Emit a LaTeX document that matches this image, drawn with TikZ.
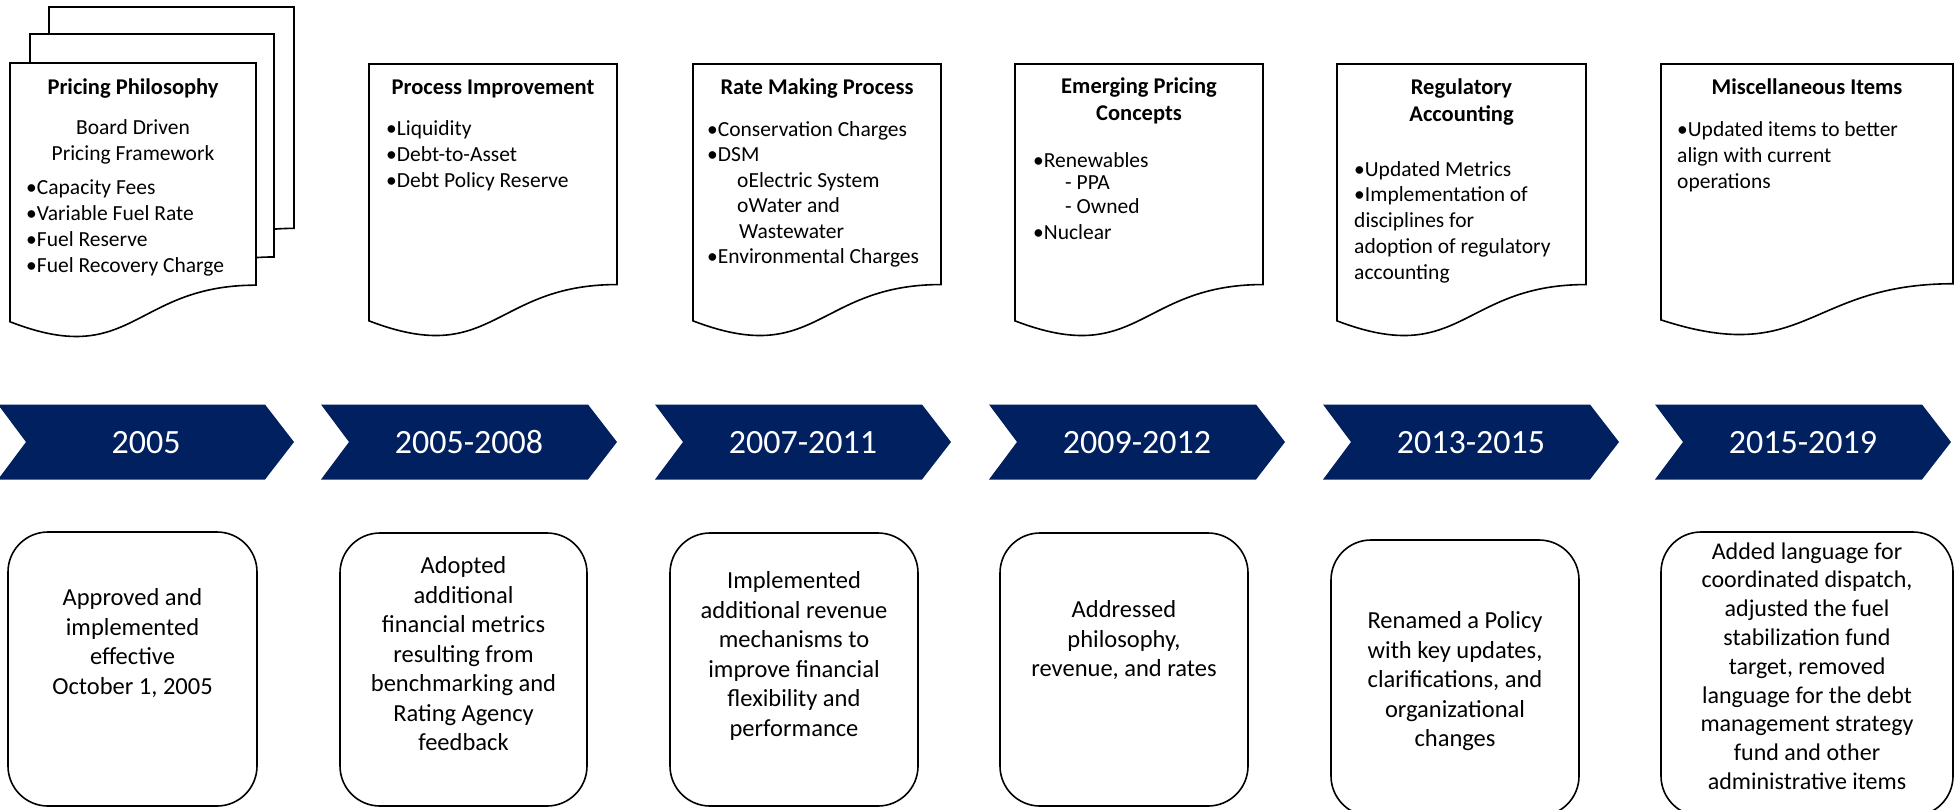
\documentclass[tikz,border=0pt]{standalone}
\usepackage{fontspec}
\setmainfont{Carlito}
\definecolor{navy}{HTML}{002060}
\tikzset{
  docline/.style={draw=black, line width=1.6pt, fill=white, line join=miter},
  doctitle/.style={font=\fontsize{22.5}{27}\selectfont\bfseries, align=center, inner sep=0pt},
  docsub/.style={font=\fontsize{21.5}{26}\selectfont, align=center, inner sep=0pt},
  docbody/.style={font=\fontsize{21.5}{26}\selectfont, align=left, inner sep=0pt, anchor=north west},
  boxstyle/.style={draw=black, line width=1.6pt, rounded corners=40pt, inner sep=0pt},
  boxtext/.style={font=\fontsize{24.5}{29.5}\selectfont, align=center, inner sep=0pt, anchor=north},
  yeartext/.style={text=white, font=\fontsize{34}{40}\selectfont, inner sep=0pt},
  chevfill/.style={fill=navy}
}
\newcommand\docshape[4]{%
  \filldraw[docline] (#1,#2) -- (#1+#3,#2) -- (#1+#3,#2+0.802*#4)
    .. controls (#1+0.5*#3,#2+0.802*#4) and (#1+0.5*#3,#2+1.1075*#4) .. (#1,#2+0.934*#4) -- cycle;}
\newcommand\yearchev[3]{%
  \fill[chevfill] (#1,404.5) -- (#1+267,404.5) -- (#1+296,442) -- (#1+267,479.5) -- (#1,479.5) -- (#1+28,442) -- cycle;
  \node[yeartext] (#3) at (#1+148,442.5) {#2};}
\begin{document}
\begin{tikzpicture}[x=1pt,y=-1pt]
\useasboundingbox (0,0) rectangle (1959,809);
\clip (0,0) rectangle (1959,809);
\fill[white] (0,0) rectangle (1959,809);

% ---------- documents ----------
\docshape{49}{7}{245}{276}
\docshape{30}{34}{244}{278}
\docshape{10}{63}{246}{277}
\docshape{369}{64}{248}{275}
\docshape{693}{64}{248}{275}
\docshape{1015}{64}{248}{275}
\docshape{1337}{64}{249}{275}
\docshape{1661}{64}{292}{274}

% doc 1
\node[doctitle, anchor=base] (d1title) at (133,94) {Pricing Philosophy};
\node[docsub, anchor=north] (d1sub) at (133,116) {\strut Board Driven\\Pricing Framework};
\node[docbody] (d1body) at (26,176) {\strut •Capacity Fees\\•Variable Fuel Rate\\•Fuel Reserve\\•Fuel Recovery Charge};

% doc 2
\node[doctitle, anchor=base] (d2title) at (493,94) {Process Improvement};
\node[docbody] (d2body) at (386,117) {\strut •Liquidity\\•Debt-to-Asset\\•Debt Policy Reserve};

% doc 3
\node[doctitle, anchor=base] (d3title) at (817,94) {Rate Making Process};
\node[docbody, font=\fontsize{21.5}{25.5}\selectfont] (d3body) at (707,118) {\strut •Conservation Charges\\•DSM\\\hspace*{30pt}oElectric System\\\hspace*{30pt}oWater and\\\hspace*{32pt}Wastewater\\•Environmental Charges};

% doc 4
\node[doctitle, anchor=north] (d4title) at (1139,74) {\strut Emerging Pricing\\Concepts};
\node[docbody] (d4body) at (1033,149) {\strut •Renewables\\[-4pt]\hspace*{32pt}- PPA\\[-2pt]\hspace*{32pt}- Owned\\•Nuclear};

% doc 5
\node[doctitle, anchor=north] (d5title) at (1461.5,75.5) {\strut Regulatory\\Accounting};
\node[docbody, font=\fontsize{21.5}{25.75}\selectfont] (d5body) at (1354,158) {\strut •Updated Metrics\\•Implementation of\\disciplines for\\adoption of regulatory\\accounting};

% doc 6
\node[doctitle, anchor=base] (d6title) at (1807,94) {Miscellaneous Items};
\node[docbody] (d6body) at (1677,118) {\strut •Updated items to better\\align with current\\operations};

% ---------- chevrons ----------
\yearchev{-2}{2005}{y1}
\yearchev{321}{2005-2008}{y2}
\yearchev{655}{2007-2011}{y3}
\yearchev{989}{2009-2012}{y4}
\yearchev{1323}{2013-2015}{y5}
\yearchev{1655}{2015-2019}{y6}

% ---------- rounded boxes ----------
\node[boxstyle, minimum width=249pt, minimum height=274pt] (b1) at (132.5,669) {};
\node[boxstyle, minimum width=247pt, minimum height=273pt] (b2) at (463.5,669.5) {};
\node[boxstyle, minimum width=248pt, minimum height=273pt] (b3) at (794,669.5) {};
\node[boxstyle, minimum width=248pt, minimum height=273pt] (b4) at (1124,669.5) {};
\node[boxstyle, minimum width=248pt, minimum height=276pt] (b5) at (1455,678) {};
\node[boxstyle, minimum width=292pt, minimum height=284pt] (b6) at (1807,674) {};

\node[boxtext] (t1) at (132.5,584.7) {\strut Approved and\\implemented\\effective\\October 1, 2005};
\node[boxtext] (t2) at (463.5,552.7) {\strut Adopted\\additional\\financial metrics\\resulting from\\benchmarking and\\Rating Agency\\feedback};
\node[boxtext] (t3) at (794,567.7) {\strut Implemented\\additional revenue\\mechanisms to\\improve financial\\flexibility and\\performance};
\node[boxtext] (t4) at (1124,596.7) {\strut Addressed\\philosophy,\\revenue, and rates};
\node[boxtext] (t5) at (1455,607.7) {\strut Renamed a Policy\\with key updates,\\clarifications, and\\organizational\\changes};
\node[boxtext, font=\fontsize{24}{28.8}\selectfont] (t6) at (1807,538.7) {\strut Added language for\\coordinated dispatch,\\adjusted the fuel\\stabilization fund\\target, removed\\language for the debt\\management strategy\\fund and other\\administrative items};
\end{tikzpicture}
\end{document}
